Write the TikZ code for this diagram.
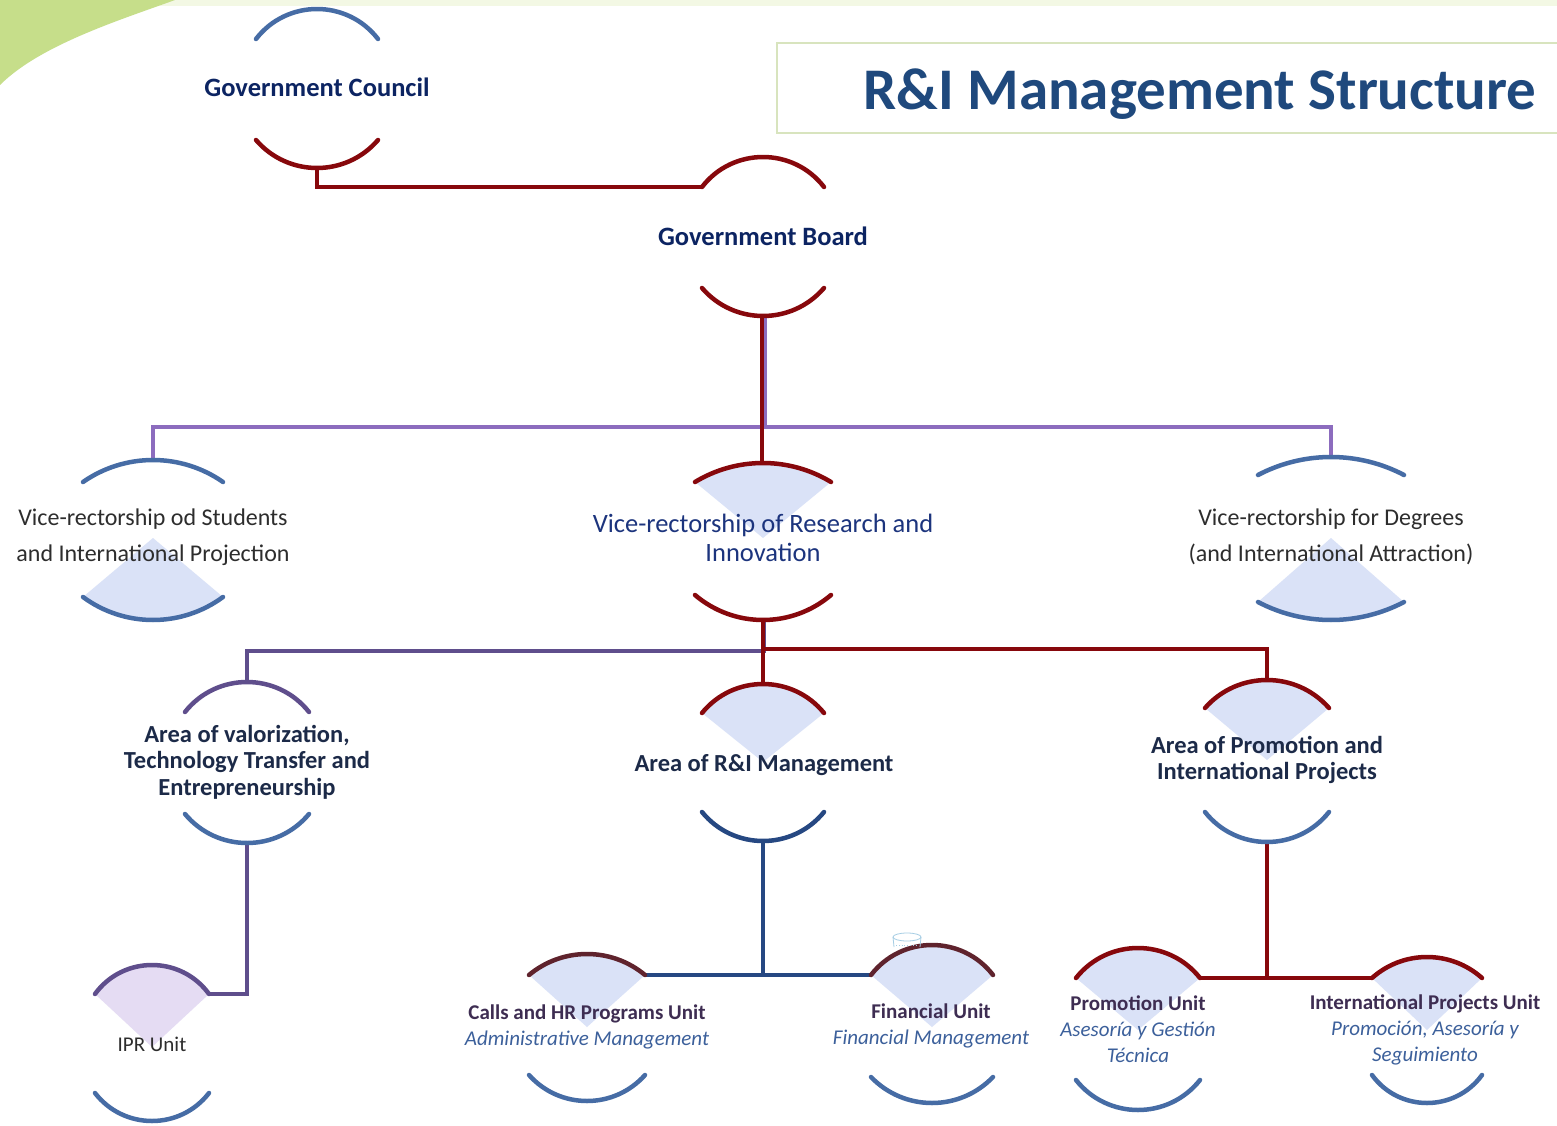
\documentclass[tikz,border=0pt]{standalone}
\usepackage{fontspec}
\setmainfont{Carlito}
\usetikzlibrary{calc}
\definecolor{DR}{RGB}{135,8,12}
\definecolor{AB}{RGB}{70,108,165}
\definecolor{DB}{RGB}{38,72,130}
\definecolor{LP}{RGB}{140,108,190}
\definecolor{VP}{RGB}{95,78,140}
\definecolor{MR}{RGB}{95,35,45}
\definecolor{WB}{RGB}{218,226,247}
\definecolor{WL}{RGB}{229,220,243}
\definecolor{NV}{RGB}{12,36,98}
\definecolor{TT}{RGB}{31,73,125}
\definecolor{SL}{RGB}{28,42,72}
\definecolor{UT}{RGB}{62,45,82}
\definecolor{IT}{RGB}{60,96,155}
\definecolor{GT}{RGB}{45,45,45}
\definecolor{RB}{RGB}{28,52,125}
\definecolor{GR}{RGB}{198,222,138}
\definecolor{PB}{RGB}{243,248,228}
\definecolor{TB}{RGB}{216,228,190}
\definecolor{IC}{RGB}{165,205,228}

% points of one ring: name, cx, cy, half width, top end y, top apex y, bottom end y, bottom apex y
% (each arc is a circle arc through its two ends and its apex)
\newcommand{\ringpts}[8]{%
  \pgfmathsetmacro\ringL{#2-#4}%
  \pgfmathsetmacro\ringR{#2+#4}%
  % top arc
  \pgfmathsetmacro\ringS{abs(#6-#5)}%
  \pgfmathsetmacro\ringRad{(#4*#4+\ringS*\ringS)/(2*\ringS)}%
  \pgfmathsetmacro\ringHalf{asin(#4/\ringRad)}%
  \pgfmathsetmacro\ringK{4/3*tan(\ringHalf/2)*\ringRad}%
  \pgfmathsetmacro\ringCL{\ringL+\ringK*cos(\ringHalf)}%
  \pgfmathsetmacro\ringCR{\ringR-\ringK*cos(\ringHalf)}%
  \pgfmathsetmacro\ringT{#5-\ringK*sin(\ringHalf)}%
  \coordinate (#1-c) at (#2,#3);
  \coordinate (#1-tl) at (\ringL,#5);
  \coordinate (#1-tr) at (\ringR,#5);
  \coordinate (#1-t) at (#2,#6);
  \coordinate (#1-tcl) at (\ringCL,\ringT);
  \coordinate (#1-tcr) at (\ringCR,\ringT);
  % bottom arc
  \pgfmathsetmacro\ringS{abs(#8-#7)}%
  \pgfmathsetmacro\ringRad{(#4*#4+\ringS*\ringS)/(2*\ringS)}%
  \pgfmathsetmacro\ringHalf{asin(#4/\ringRad)}%
  \pgfmathsetmacro\ringK{4/3*tan(\ringHalf/2)*\ringRad}%
  \pgfmathsetmacro\ringCL{\ringL+\ringK*cos(\ringHalf)}%
  \pgfmathsetmacro\ringCR{\ringR-\ringK*cos(\ringHalf)}%
  \pgfmathsetmacro\ringB{#7+\ringK*sin(\ringHalf)}%
  \coordinate (#1-bl) at (\ringL,#7);
  \coordinate (#1-br) at (\ringR,#7);
  \coordinate (#1-b) at (#2,#8);
  \coordinate (#1-bcl) at (\ringCL,\ringB);
  \coordinate (#1-bcr) at (\ringCR,\ringB);
}
\newcommand{\toparc}[2]{\draw[arcline,#2] (#1-tl) .. controls (#1-tcl) and (#1-tcr) .. (#1-tr);}
\newcommand{\botarc}[2]{\draw[arcline,#2] (#1-bl) .. controls (#1-bcl) and (#1-bcr) .. (#1-br);}
\newcommand{\topwedge}[2]{\fill[#2] (#1-c) -- (#1-tl) .. controls (#1-tcl) and (#1-tcr) .. (#1-tr) -- cycle;}
\newcommand{\botwedge}[2]{\fill[#2] (#1-c) -- (#1-bl) .. controls (#1-bcl) and (#1-bcr) .. (#1-br) -- cycle;}
\newcommand{\subline}[1]{{\mdseries\itshape\color{IT}#1}}

\begin{document}
\begin{tikzpicture}[x=1pt, y=-1pt,
  every node/.style={inner sep=0pt},
  arcline/.style={line width=4.5pt, line cap=round},
  conn/.style={line width=4pt},
  cupline/.style={draw=IC, line width=0.8pt},
  gtitle/.style={font=\fontsize{59}{70}\selectfont\bfseries, text=TT},
  govlbl/.style={font=\fontsize{26.5}{32}\selectfont\bfseries, text=NV},
  vrlbl/.style={font=\fontsize{24}{36}\selectfont, text=GT, align=center},
  reslbl/.style={font=\fontsize{26.5}{29}\selectfont, text=RB, align=center},
  arealbl/.style={font=\fontsize{24.5}{26.5}\selectfont\bfseries, text=SL, align=center},
  unitlbl/.style={font=\fontsize{21}{26}\selectfont\bfseries, text=UT, align=center},
  iprlbl/.style={font=\fontsize{21}{26}\selectfont, text=GT}
]
\useasboundingbox (0,0) rectangle (1557,1126);
\fill[white] (0,0) rectangle (1557,1126);

% background
\fill[PB] (0,0) rectangle (1557,6);
\fill[GR] (0,0) -- (175,0) .. controls (120,20) and (40,45) .. (0,85) -- cycle;
\draw[TB, line width=2pt, fill=white] (777,43) rectangle (1575,133);

% rings
\ringpts{gc}{317}{88}{61}{39}{9}{140}{168}
\ringpts{gb}{763}{236}{61}{187}{157}{288}{316}
\ringpts{vrs}{153}{538}{70}{482}{460}{597}{620}
\ringpts{vrr}{763}{538}{68}{482}{463}{595}{620}
\ringpts{vrd}{1331}{538}{73}{475}{457}{602}{620}
\ringpts{val}{247}{762}{62}{712}{682}{814}{843}
\ringpts{rim}{763}{762}{61}{713}{684}{812}{841}
\ringpts{pro}{1267}{760}{62}{708}{680}{812}{842}
\ringpts{ipr}{152}{1047}{57}{994}{965}{1093}{1121}
\ringpts{cal}{587}{1027}{58}{975}{954}{1075}{1101}
\ringpts{fin}{932}{1027}{61}{975}{945}{1077}{1103}
\ringpts{pu}{1138}{1030}{62}{978}{948}{1080}{1110}
\ringpts{ipu}{1427}{1030}{55}{978}{957}{1075}{1103}

% connectors
\coordinate (bus) at (763,427);
\coordinate (split) at (763,649);
\coordinate (rimj) at (763,975);
\coordinate (proj) at (1267,978);
\draw[conn,DR] (gc-b) |- (gb-tl);
\draw[conn,LP] (vrs-t) |- (bus) -| (vrd-t);
\draw[conn,LP] ([xshift=2pt]gb-b) -- ([xshift=2pt]bus);
\draw[conn,DR] ([xshift=-1pt]gb-b) -- ([xshift=-1pt]vrr-t);
\draw[conn,VP] ([xshift=1pt]vrr-b) |- ([yshift=-2pt]split) -| (val-t);
\draw[conn,DR] (vrr-b) -- (split) -| (pro-t);
\draw[conn,DR] (split) -- (rim-t);
\draw[conn,DB] (rim-b) -- (rimj);
\draw[conn,DB] (cal-tr) -- (rimj) -- (fin-tl);
\draw[conn,DR] (pro-b) -- (proj);
\draw[conn,DR] (pu-tr) -- (proj) -- (ipu-tl);
\draw[conn,VP] (val-b) |- (ipr-tr);

% wedges
\botwedge{vrs}{WB}
\topwedge{vrr}{WB}
\botwedge{vrd}{WB}
\topwedge{rim}{WB}
\topwedge{pro}{WB}
\topwedge{ipr}{WL}
\foreach \r in {cal,fin,pu,ipu}{\topwedge{\r}{WB}}

% arcs
\toparc{gc}{AB} \botarc{gc}{DR}
\toparc{gb}{DR} \botarc{gb}{DR}
\toparc{vrs}{AB} \botarc{vrs}{AB}
\toparc{vrr}{DR} \botarc{vrr}{DR}
\toparc{vrd}{AB} \botarc{vrd}{AB}
\toparc{val}{VP} \botarc{val}{AB}
\toparc{rim}{DR} \botarc{rim}{DB}
\toparc{pro}{DR} \botarc{pro}{AB}
\toparc{ipr}{VP} \botarc{ipr}{AB}
\toparc{cal}{MR} \botarc{cal}{AB}
\toparc{fin}{MR} \botarc{fin}{AB}
\toparc{pu}{DR} \botarc{pu}{AB}
\toparc{ipu}{DR} \botarc{ipu}{AB}

% small cup above the Financial Unit
\draw[cupline] (907,937) ellipse [x radius=14, y radius=4];
\draw[cupline] (893,937) -- (894,947) (921,937) -- (920,947);
\draw[cupline, dotted] (896,945) -- (918,945);

% labels
\node[gtitle, anchor=base] (title) at (1200,110) {R\&I Management Structure};
\node[govlbl, anchor=base] (gc) at (317,97) {Government Council};
\node[govlbl, anchor=base] (gb) at (763,245) {Government Board};
\node[vrlbl] (vrs) at (153,537) {Vice-rectorship od Students\\and International Projection};
\node[reslbl] (vrr) at (763,538) {Vice-rectorship of Research and\\Innovation};
\node[vrlbl] (vrd) at (1331,537) {Vice-rectorship for Degrees\\(and International Attraction)};
\node[arealbl] (val) at (247,762) {Area of valorization,\\Technology Transfer and\\Entrepreneurship};
\node[arealbl, anchor=base] (rim) at (764,771) {Area of R\&I Management};
\node[arealbl] (pro) at (1267,760) {Area of Promotion and\\International Projects};
\node[iprlbl, anchor=base] (ipr) at (152,1051) {IPR Unit};
\node[unitlbl] (cal) at (587,1027) {Calls and HR Programs Unit\\\subline{Administrative Management}};
\node[unitlbl] (fin) at (931,1026) {Financial Unit\\\subline{Financial Management}};
\node[unitlbl] (pu) at (1138,1029) {Promotion Unit\\\subline{Asesoría y Gestión}\\\subline{Técnica}};
\node[unitlbl] (ipu) at (1425,1030) {International Projects Unit\\\subline{Promoción, Asesoría y}\\\subline{Seguimiento}};
\end{tikzpicture}
\end{document}
